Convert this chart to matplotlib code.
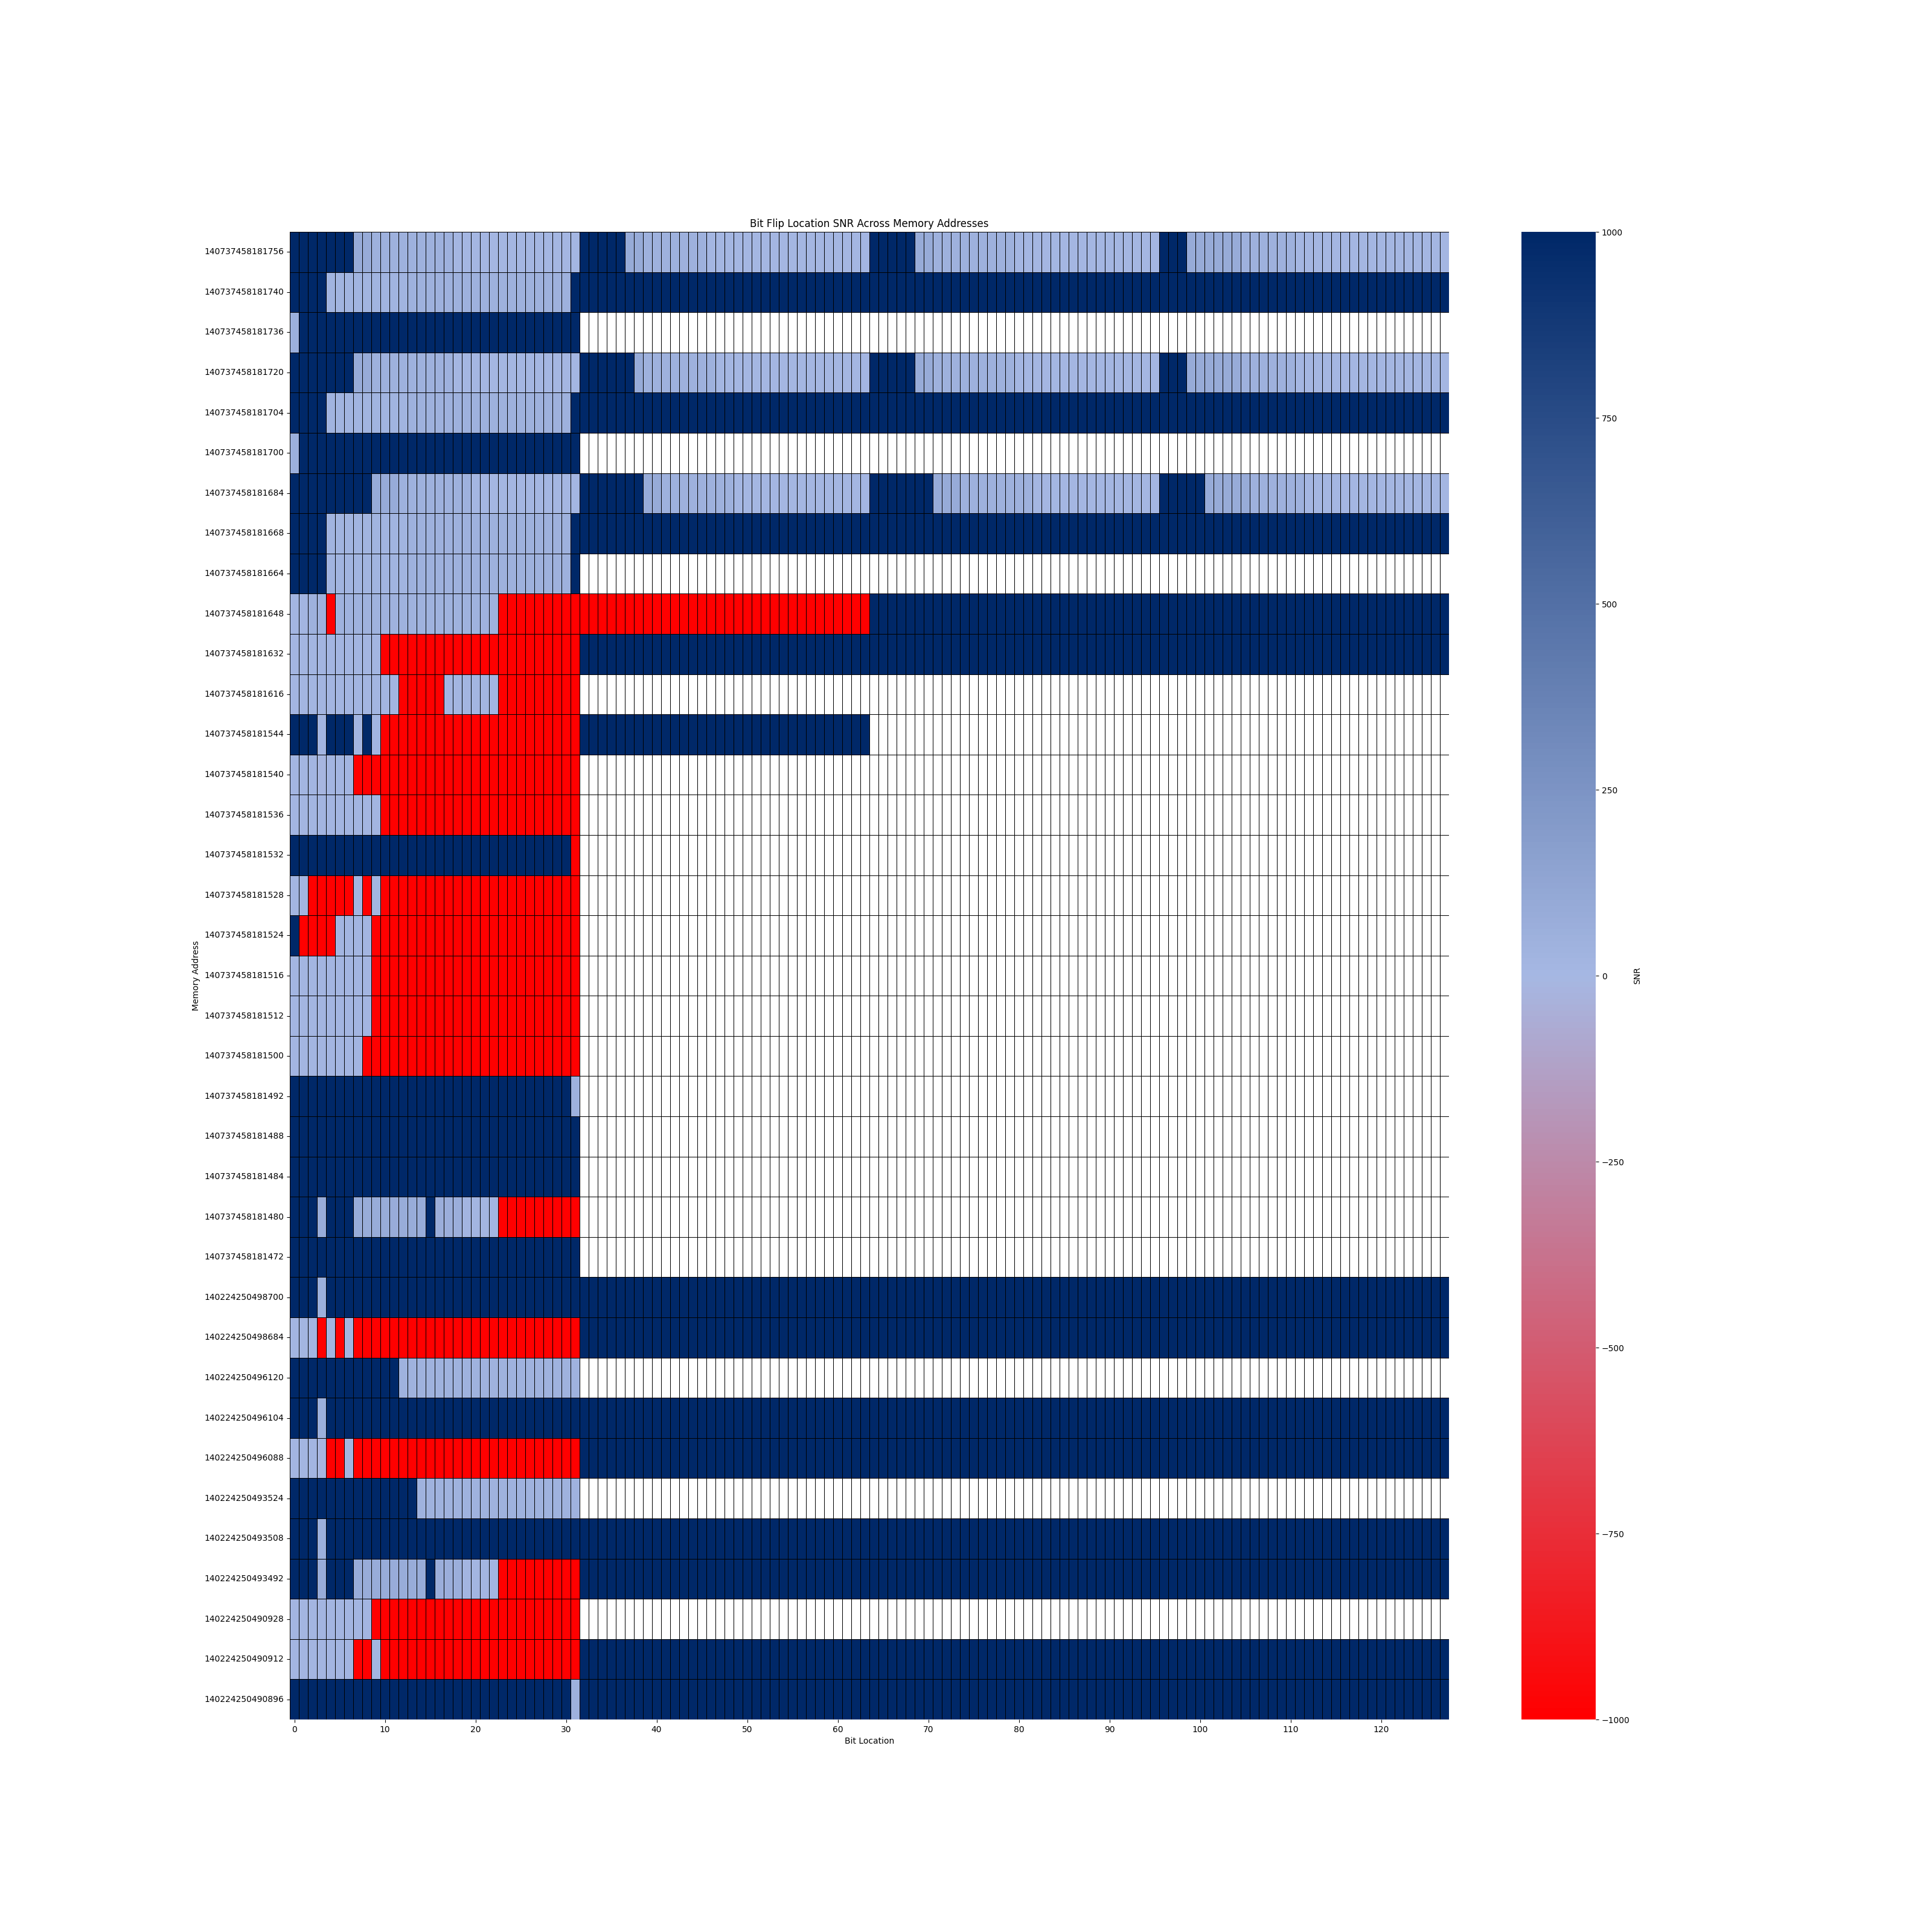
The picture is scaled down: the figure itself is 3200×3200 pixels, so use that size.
import numpy as np
import pandas as pd
import matplotlib
matplotlib.use("Agg")
import matplotlib.pyplot as plt
from matplotlib.colors import LinearSegmentedColormap
import seaborn as sns

N = 1000      # strong positive
R = -1000     # strong negative
W = np.nan    # no reading

addresses = [
    "140737458181756", "140737458181740", "140737458181736", "140737458181720",
    "140737458181704", "140737458181700", "140737458181684", "140737458181668",
    "140737458181664", "140737458181648", "140737458181632", "140737458181616",
    "140737458181544", "140737458181540", "140737458181536", "140737458181532",
    "140737458181528", "140737458181524", "140737458181516", "140737458181512",
    "140737458181500", "140737458181492", "140737458181488", "140737458181484",
    "140737458181480", "140737458181472", "140224250498700", "140224250498684",
    "140224250496120", "140224250496104", "140224250496088", "140224250493524",
    "140224250493508", "140224250493492", "140224250490928", "140224250490912",
    "140224250490896",
]

# SNR per bit, written as (value, run length) along the 128 bits of each address
row_runs = [
    [(N, 7), (90, 2), (50, 9), (15, 14), (N, 5), (90, 2), (50, 7), (15, 18),
     (N, 5), (90, 2), (50, 9), (15, 16), (N, 3), (90, 6), (50, 6), (15, 17)],
    [(N, 4), (30, 9), (50, 18), (N, 97)],
    [(60, 1), (N, 31), (W, 96)],
    [(N, 7), (90, 2), (50, 9), (15, 14), (N, 6), (90, 1), (50, 8), (15, 17),
     (N, 5), (90, 2), (50, 9), (15, 16), (N, 3), (90, 6), (50, 6), (15, 17)],
    [(N, 4), (30, 9), (50, 18), (N, 97)],
    [(60, 1), (N, 31), (W, 96)],
    [(N, 9), (90, 3), (50, 8), (15, 12), (N, 7), (90, 2), (50, 8), (15, 15),
     (N, 7), (90, 3), (50, 8), (15, 14), (N, 5), (90, 5), (50, 6), (15, 16)],
    [(N, 4), (30, 9), (50, 18), (N, 97)],
    [(N, 4), (30, 9), (50, 18), (N, 1), (W, 96)],
    [(20, 2), (50, 2), (R, 1), (40, 18), (R, 41), (N, 64)],
    [(20, 10), (R, 22), (N, 96)],
    [(20, 12), (R, 5), (20, 6), (R, 9), (W, 96)],
    [(N, 3), (20, 1), (N, 3), (20, 1), (N, 1), (20, 1), (R, 22), (N, 32), (W, 64)],
    [(20, 3), (-10, 1), (20, 3), (R, 25), (W, 96)],
    [(20, 10), (R, 22), (W, 96)],
    [(N, 31), (R, 1), (W, 96)],
    [(20, 2), (R, 5), (20, 1), (R, 1), (20, 1), (R, 22), (W, 96)],
    [(N, 1), (R, 4), (20, 4), (R, 23), (W, 96)],
    [(20, 9), (R, 23), (W, 96)],
    [(20, 9), (R, 23), (W, 96)],
    [(20, 8), (R, 24), (W, 96)],
    [(N, 31), (50, 1), (W, 96)],
    [(N, 32), (W, 96)],
    [(N, 32), (W, 96)],
    [(N, 3), (80, 1), (N, 3), (80, 8), (N, 1), (70, 3), (20, 4), (R, 9), (W, 96)],
    [(N, 32), (W, 96)],
    [(N, 3), (60, 1), (N, 124)],
    [(20, 3), (R, 1), (20, 1), (R, 1), (20, 1), (R, 25), (N, 96)],
    [(N, 12), (40, 20), (W, 96)],
    [(N, 3), (60, 1), (N, 124)],
    [(20, 3), (-10, 1), (R, 2), (20, 1), (R, 25), (N, 96)],
    [(N, 14), (40, 18), (W, 96)],
    [(N, 3), (60, 1), (N, 124)],
    [(N, 3), (80, 1), (N, 3), (80, 8), (N, 1), (70, 3), (20, 4), (R, 9), (N, 96)],
    [(20, 9), (R, 23), (W, 96)],
    [(20, 7), (R, 2), (20, 1), (R, 22), (N, 96)],
    [(N, 31), (50, 1), (N, 96)],
]

bits = list(range(128))


def expand(runs):
    out = []
    for v, n in runs:
        out.extend([v] * n)
    return out


snr = pd.DataFrame([expand(r) for r in row_runs], index=addresses, columns=bits)

cmap = LinearSegmentedColormap.from_list("snr", ["#ff0000", "#a6b8e3", "#002868"])

fig, ax = plt.subplots(figsize=(32, 32))
plt.subplots_adjust(left=0.15)

sns.heatmap(snr, cmap=cmap, vmin=-1000, vmax=1000, linewidths=0.7, linecolor="black",
            xticklabels=10, yticklabels=addresses, cbar_kws={"label": "SNR"}, ax=ax)

ax.set_title("Bit Flip Location SNR Across Memory Addresses")
ax.set_xlabel("Bit Location")
ax.set_ylabel("Memory Address")
plt.setp(ax.get_xticklabels(), rotation=0)
plt.setp(ax.get_yticklabels(), rotation=0)

plt.savefig("out.png", dpi=100)
plt.close()
